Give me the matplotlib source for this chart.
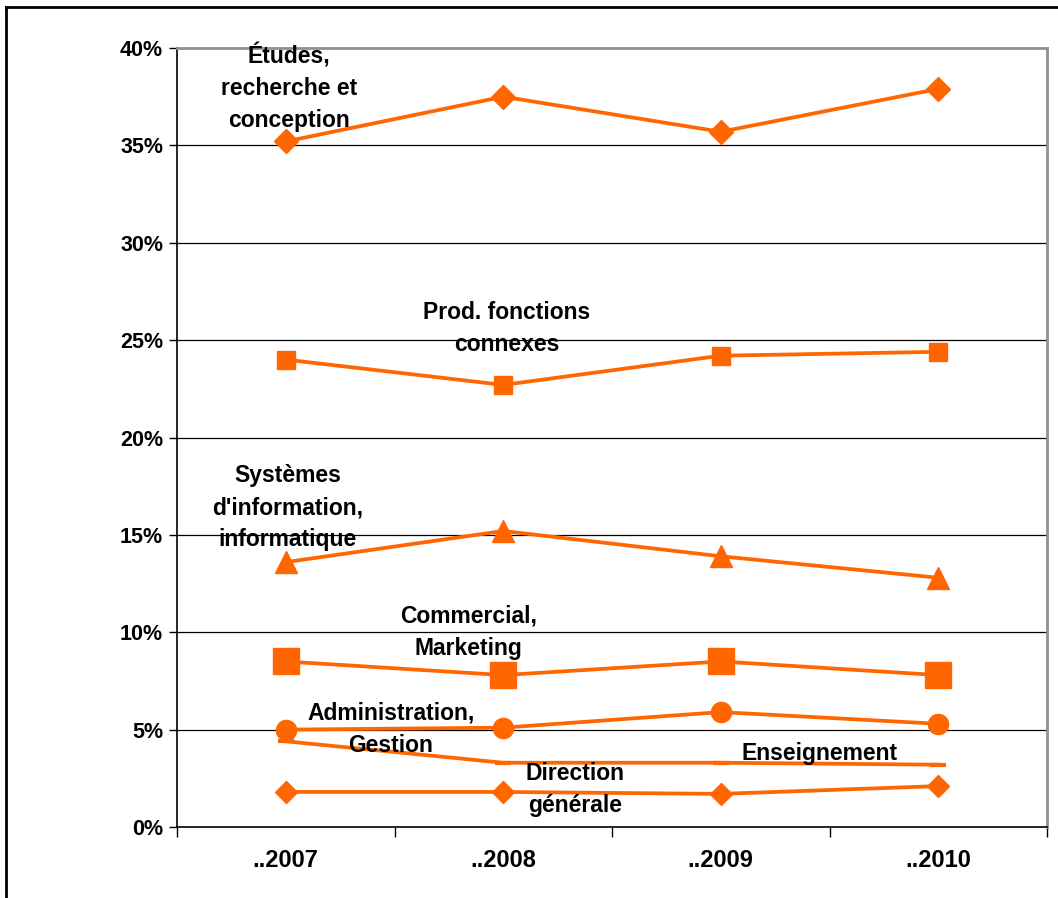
import matplotlib
matplotlib.use("Agg")
import matplotlib.pyplot as plt
from matplotlib.lines import Line2D
import numpy as np

years = ["..2007", "..2008", "..2009", "..2010"]
yticks = [0, 5, 10, 15, 20, 25, 30, 35, 40]

etudes = [35.2, 37.5, 35.7, 37.9]
prod = [24.0, 22.7, 24.2, 24.4]
systemes = [13.6, 15.2, 13.9, 12.8]
commercial = [8.5, 7.8, 8.5, 7.8]
admin = [5.0, 5.1, 5.9, 5.3]
enseignement = [4.4, 3.3, 3.3, 3.2]
direction = [1.8, 1.8, 1.7, 2.1]

labels = {
    "etudes": "Études,\nrecherche et\nconception",
    "prod": "Prod. fonctions\nconnexes",
    "systemes": "Systèmes\nd'information,\ninformatique",
    "commercial": "Commercial,\nMarketing",
    "admin": "Administration,\nGestion",
    "enseignement": "Enseignement",
    "direction": "Direction\ngénérale",
}

orange = "#FF6600"
plt.rcParams["font.family"] = ["Liberation Sans", "DejaVu Sans"]
plt.rcParams["font.weight"] = "bold"

fig = plt.figure(figsize=(10.58, 8.98), dpi=100)
ax = fig.add_axes([177 / 1058, 1 - 827 / 898, 870 / 1058, 779 / 898])

x = np.arange(len(years))
lw = 2.7
ax.plot(x, etudes, color=orange, lw=lw, marker="D", ms=12, zorder=3)
ax.plot(x, prod, color=orange, lw=lw, marker="s", ms=13.5, zorder=3)
ax.plot(x, systemes, color=orange, lw=lw, marker="^", ms=15.5, zorder=3)
ax.plot(x, commercial, color=orange, lw=lw, marker="s", ms=18.5, zorder=3)
ax.plot(x, admin, color=orange, lw=lw, marker="o", ms=14.5, zorder=3)
ax.plot(x, enseignement, color=orange, lw=lw, marker="_", ms=12, mew=3, zorder=3)
ax.plot(x, direction, color=orange, lw=lw, marker="D", ms=11, zorder=3)

ax.set_xlim(-0.5, 3.5)
ax.set_ylim(0, 40)
ax.set_yticks(yticks)
ax.set_yticklabels(["%d%%" % v for v in yticks])
ax.set_xticks(x)
ax.set_xticklabels(years)
ax.set_xticks(np.arange(-0.5, 4, 1), minor=True)
ax.tick_params(axis="x", which="major", length=0, pad=16, labelsize=17)
ax.tick_params(axis="x", which="minor", length=7, width=1, direction="out")
ax.tick_params(axis="y", length=6, width=1, direction="out", pad=4, labelsize=15.5)

for v in yticks[1:-1]:
    ax.axhline(v, color="black", lw=0.9, zorder=1)
for s in ["left", "bottom"]:
    ax.spines[s].set_color("black")
    ax.spines[s].set_linewidth(1.2)
for s in ["top", "right"]:
    ax.spines[s].set_color("#909090")
    ax.spines[s].set_linewidth(2)

text_kw = dict(ha="center", va="center", fontsize=16.5, fontweight="bold",
               linespacing=1.5, zorder=4)
ax.text(0.015, 37.95, labels["etudes"], **text_kw)
ax.text(1.017, 25.6, labels["prod"], **text_kw)
ax.text(0.01, 16.4, labels["systemes"], **text_kw)
ax.text(0.84, 10.0, labels["commercial"], **text_kw)
ax.text(0.484, 5.03, labels["admin"], **text_kw)
ax.text(2.456, 3.75, labels["enseignement"], **text_kw)
ax.text(1.33, 1.9, labels["direction"], **text_kw)

# outer frame (top and left edges visible)
fig.add_artist(Line2D([6 / 1058, 1.0], [1 - 7 / 898, 1 - 7 / 898],
                      color="black", lw=2, transform=fig.transFigure))
fig.add_artist(Line2D([6 / 1058, 6 / 1058], [0.0, 1 - 7 / 898],
                      color="black", lw=2, transform=fig.transFigure))

fig.savefig("out.png", dpi=100)
